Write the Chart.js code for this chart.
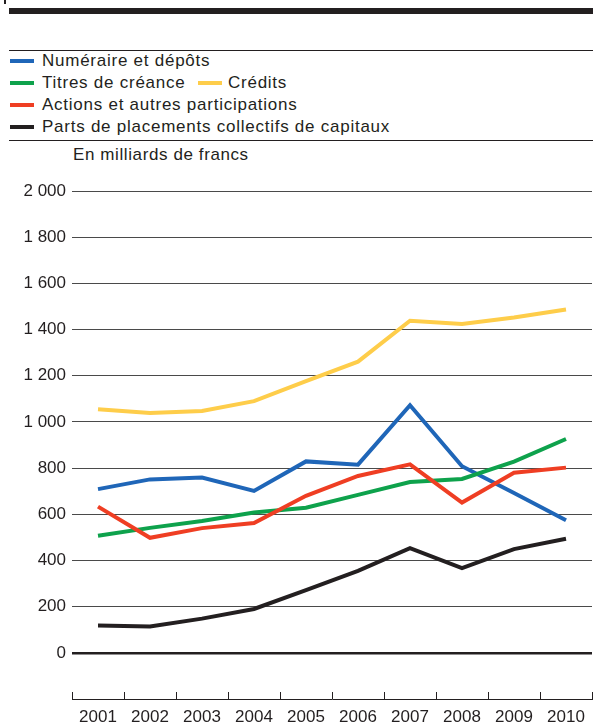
<!DOCTYPE html>
<html>
<head>
<meta charset="utf-8">
<script src="https://cdn.jsdelivr.net/npm/chart.js@4.4.1/dist/chart.umd.min.js"></script>
<style>
  html, body { margin: 0; padding: 0; background: #fff; }
  body { width: 593px; height: 725px; position: relative; overflow: hidden;
         font-family: 'Liberation Sans', Arial, sans-serif; color: #231f20; }
  #c { position: absolute; left: 0; top: 0; }
  .rule { position: absolute; left: 9px; right: 0; background: #231f20; }
  .leg { position: absolute; font-size: 17px; line-height: 20px; white-space: nowrap; letter-spacing: 0.75px; }
  .sw { position: absolute; height: 4px; width: 24px; }
  .unit { position: absolute; left: 73px; top: 145px; font-size: 17px; line-height: 20px; white-space: nowrap; letter-spacing: 0.6px; }
</style>
</head>
<body>
<div style="position:absolute;left:4px;top:0;width:2px;height:4px;background:#231f20"></div>
<div class="rule" style="top:8px;height:6px"></div>
<div class="rule" style="top:50px;height:1px"></div>
<div class="rule" style="top:140px;height:1px"></div>

<div class="sw" style="left:10px;top:59px;background:#1f66b8"></div>
<div class="leg" style="left:42px;top:51px">Numéraire et dépôts</div>
<div class="sw" style="left:10px;top:81px;background:#0ea24c"></div>
<div class="leg" style="left:42px;top:73px">Titres de créance</div>
<div class="sw" style="left:198px;top:81px;background:#fecd4a"></div>
<div class="leg" style="left:228px;top:73px">Crédits</div>
<div class="sw" style="left:10px;top:103px;background:#ef3e23"></div>
<div class="leg" style="left:42px;top:95px">Actions et autres participations</div>
<div class="sw" style="left:10px;top:125px;background:#231f20"></div>
<div class="leg" style="left:42px;top:117px">Parts de placements collectifs de capitaux</div>
<div class="unit">En milliards de francs</div>

<canvas id="c" width="593" height="725"></canvas>
<script>
const years = ['2001','2002','2003','2004','2005','2006','2007','2008','2009','2010'];
const numeraireDepots = [709, 751, 759, 701, 829, 815, 1072, 808, 692, 574];
const titresCreance   = [507, 541, 571, 608, 628, 684, 740, 753, 828, 926];
const credits         = [1055, 1039, 1047, 1090, 1177, 1261, 1438, 1424, 1452, 1487];
const actions         = [633, 498, 540, 562, 680, 766, 816, 651, 780, 802];
const placements      = [118, 114, 148, 190, 272, 355, 453, 367, 449, 494];
const yTickValues     = [-200, 0, 200, 400, 600, 800, 1000, 1200, 1400, 1600, 1800, 2000];

const FONT = "'Liberation Sans', Arial, sans-serif";
const INK = '#231f20';

function fmt(v) {
  if (v < 0) return '';
  const s = String(v);
  return s.length > 3 ? s.slice(0, s.length - 3) + ' ' + s.slice(-3) : s;
}

const upTicks = {
  id: 'upTicks',
  afterDraw(chart) {
    const x = chart.scales.x, ctx = chart.ctx;
    const n = years.length;
    const step = (x.right - x.left) / n;
    ctx.save();
    ctx.strokeStyle = INK;
    ctx.lineWidth = 1;
    ctx.beginPath();
    for (let i = 0; i <= n; i++) {
      const px = Math.round(x.left + i * step) + 0.5;
      ctx.moveTo(px, x.top - 7);
      ctx.lineTo(px, x.top);
    }
    ctx.stroke();
    ctx.restore();
  }
};

function ds(label, data, color) {
  return { label, data, borderColor: color, backgroundColor: color, borderWidth: 4,
           pointRadius: 0, tension: 0, fill: false, borderJoinStyle: 'miter' };
}

new Chart(document.getElementById('c'), {
  type: 'line',
  data: {
    labels: years,
    datasets: [
      ds('Parts de placements collectifs de capitaux', placements, '#231f20'),
      ds('Actions et autres participations', actions, '#ef3e23'),
      ds('Titres de créance', titresCreance, '#0ea24c'),
      ds('Numéraire et dépôts', numeraireDepots, '#1f66b8'),
      ds('Crédits', credits, '#fecd4a')
    ]
  },
  options: {
    responsive: false,
    devicePixelRatio: 1,
    animation: false,
    layout: { padding: { top: 191, right: 1, left: 0, bottom: 0 } },
    plugins: { legend: { display: false }, tooltip: { enabled: false } },
    scales: {
      x: {
        type: 'category',
        offset: true,
        grid: { display: false },
        border: { display: true, color: INK, width: 1 },
        ticks: { color: INK, font: { family: FONT, size: 17 }, padding: 0, maxRotation: 0, autoSkip: false },
        afterFit(s) { s.height = 26; }
      },
      y: {
        min: -200, max: 2000,
        afterBuildTicks(s) { s.ticks = yTickValues.map(v => ({ value: v })); },
        grid: {
          drawTicks: false,
          color: c => c.tick.value === -200 ? 'rgba(0,0,0,0)' : (c.tick.value === 0 ? INK : '#4a4a4a'),
          lineWidth: c => c.tick.value === 0 ? 2.5 : 1
        },
        border: { display: false },
        ticks: { color: INK, font: { family: FONT, size: 17 }, padding: 6, callback: v => fmt(v) },
        afterFit(s) { s.width = 72; }
      }
    }
  },
  plugins: [upTicks]
});
</script>
</body>
</html>
